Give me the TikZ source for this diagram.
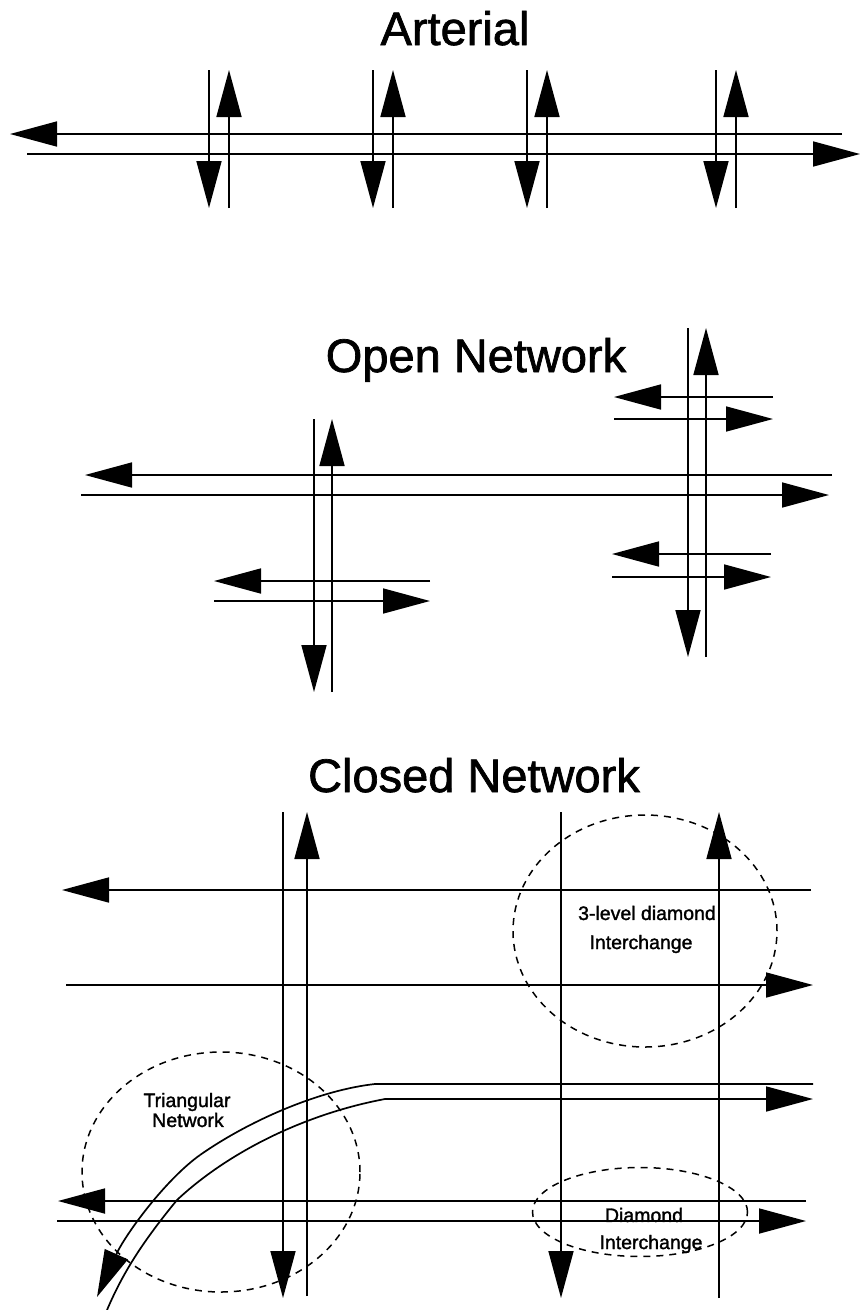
\documentclass[tikz,border=0pt]{standalone}
\usepackage{fontspec}
\setmainfont{Liberation Sans}[FakeBold=1.5]
\usetikzlibrary{arrows.meta}
\usetikzlibrary{shapes.geometric}
\tikzset{
  road/.style={line width=1.7pt},
  oneway/.style={road, -{Triangle[length=47pt,width=25pt]}},
  title/.style={font=\fontsize{47}{50}\selectfont, inner sep=0pt, anchor=base},
  small label/.style={font=\fontsize{19.5}{21}\selectfont, inner sep=0pt},
  zone/.style={draw, ellipse, line width=1.5pt, dash pattern=on 7pt off 6pt, inner sep=0pt},
}
\begin{document}
\begin{tikzpicture}[x=1pt, y=-1pt]

  \useasboundingbox (0,0) rectangle (860,1310);

  % Titles
  \node[title] (arterial) at (455,45) {Arterial};
  \node[title] (open) at (476,372) {Open Network};
  \node[title] (closed) at (474,792) {Closed Network};

  % Arterial
  \coordinate (artTopR) at (842,134);
  \coordinate (artTopL) at (10,134);
  \coordinate (artBotL) at (27,154);
  \coordinate (artBotR) at (860,154);
  \draw[oneway] (artTopR) -- (artTopL);
  \draw[oneway] (artBotL) -- (artBotR);
  \foreach \n/\xd/\xu in {a/209/229, b/373/393, c/527/547, d/716/736} {
    \coordinate (\n DownS) at (\xd,70);
    \coordinate (\n DownE) at (\xd,208);
    \coordinate (\n UpS) at (\xu,208);
    \coordinate (\n UpE) at (\xu,70);
    \draw[oneway] (\n DownS) -- (\n DownE);
    \draw[oneway] (\n UpS) -- (\n UpE);
  }

  % Open network
  \coordinate (openTopR) at (832,475);
  \coordinate (openTopL) at (85,475);
  \coordinate (openBotL) at (81,495);
  \coordinate (openBotR) at (829,495);
  \draw[oneway] (openTopR) -- (openTopL);
  \draw[oneway] (openBotL) -- (openBotR);
  \foreach \n/\xd/\xu/\ys/\ye in {e/314/332/419/692, f/688/706/328/657} {
    \coordinate (\n DownS) at (\xd,\ys);
    \coordinate (\n DownE) at (\xd,\ye);
    \coordinate (\n UpS) at (\xu,\ye);
    \coordinate (\n UpE) at (\xu,\ys);
    \draw[oneway] (\n DownS) -- (\n DownE);
    \draw[oneway] (\n UpS) -- (\n UpE);
  }
  \foreach \n/\yl/\yr/\xl/\xr in {g/397/419/614/773, h/554/577/612/771, i/581/601/214/430} {
    \coordinate (\n LeftS) at (\xr,\yl);
    \coordinate (\n LeftE) at (\xl,\yl);
    \coordinate (\n RightS) at (\xl,\yr);
    \coordinate (\n RightE) at (\xr,\yr);
    \draw[oneway] (\n LeftS) -- (\n LeftE);
    \draw[oneway] (\n RightS) -- (\n RightE);
  }

  % Closed network
  \coordinate (k1S) at (283,812);
  \coordinate (k1E) at (283,1298);
  \coordinate (k2S) at (307,1296);
  \coordinate (k2E) at (307,812);
  \coordinate (k3S) at (561,812);
  \coordinate (k3E) at (561,1298);
  \coordinate (k4S) at (719,1298);
  \coordinate (k4E) at (719,812);
  \draw[oneway] (k1S) -- (k1E);
  \draw[oneway] (k2S) -- (k2E);
  \draw[oneway] (k3S) -- (k3E);
  \draw[oneway] (k4S) -- (k4E);

  \coordinate (m1S) at (811,890);
  \coordinate (m1E) at (62,890);
  \coordinate (m2S) at (66,985);
  \coordinate (m2E) at (813,985);
  \coordinate (m3S) at (806,1201);
  \coordinate (m3E) at (58,1201);
  \coordinate (m4S) at (57,1221);
  \coordinate (m4E) at (806,1221);
  \draw[oneway] (m1S) -- (m1E);
  \draw[oneway] (m2S) -- (m2E);
  \draw[oneway] (m3S) -- (m3E);
  \draw[oneway] (m4S) -- (m4E);

  % Curved ramp
  \coordinate (upR) at (813,1084);
  \coordinate (upB) at (375,1084);
  \coordinate (upC) at (200,1155);
  \coordinate (upE) at (97,1297);
  \coordinate (lowS) at (107,1310);
  \coordinate (lowC) at (177,1200);
  \coordinate (lowB) at (385,1099);
  \coordinate (lowE) at (813,1099);
  \draw[road] (upR) -- (upB) .. controls (320,1090) and (250,1120) .. (upC);
  \draw[oneway] (upC) .. controls (165,1180) and (125,1235) .. (upE);
  \draw[road] (lowS) .. controls (122,1275) and (140,1245) .. (lowC)
    .. controls (225,1155) and (300,1115) .. (lowB);
  \draw[oneway] (lowB) -- (lowE);

  % Zones
  \node[zone, minimum width=264pt, minimum height=232pt] (threeLevel) at (645,931) {};
  \node[zone, minimum width=278pt, minimum height=240pt] (triangular) at (221,1172) {};
  \node[zone, minimum width=215pt, minimum height=89pt] (diamond) at (640,1212) {};

  % Zone labels
  \node[small label] (threeA) at (647,913) {3-level diamond};
  \node[small label] (threeB) at (641,944) {Interchange};
  \node[small label] (triA) at (187,1102) {Triangular};
  \node[small label] (triB) at (188,1120) {Network};
  \node[small label] (diaA) at (644,1215) {Diamond};
  \node[small label] (diaB) at (651,1244) {Interchange};

\end{tikzpicture}
\end{document}
